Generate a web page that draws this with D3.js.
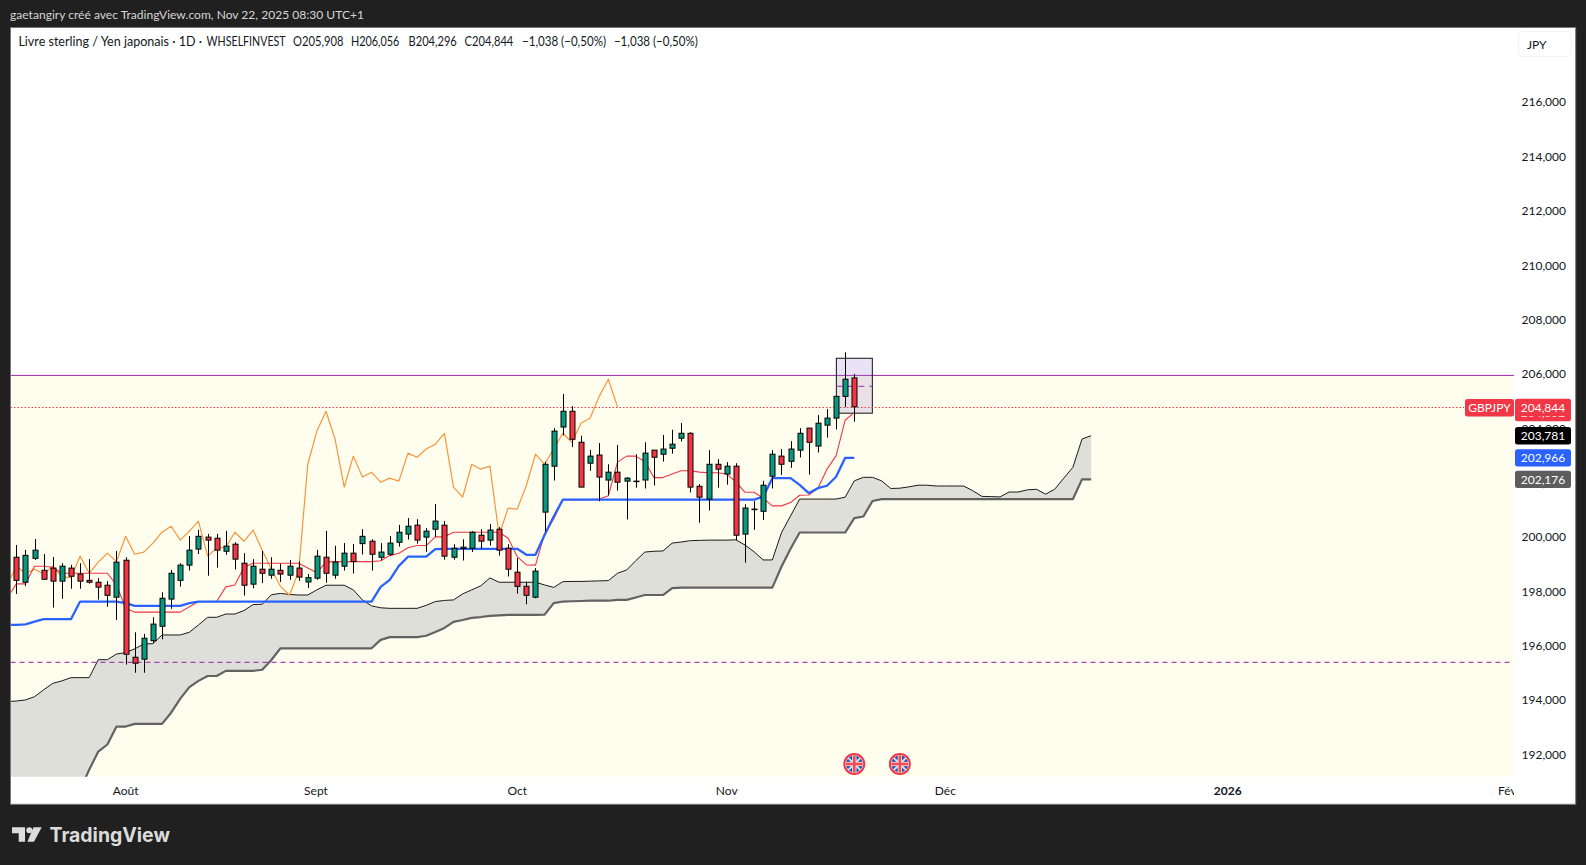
<!DOCTYPE html>
<html><head><meta charset="utf-8">
<script src="https://cdnjs.cloudflare.com/ajax/libs/d3/7.8.5/d3.min.js"></script>
<style>html,body{margin:0;padding:0;background:#202020;overflow:hidden}svg{display:block}text{font-family:Lato,"Noto Sans",sans-serif}</style>
</head><body><svg id="c" width="1586" height="865"></svg>
<script>
const opens=[199.31,198.39,199.27,198.83,198.91,198.43,198.91,198.69,198.46,198.39,198.28,197.84,199.20,195.63,195.56,196.24,196.77,197.77,198.46,199.02,199.61,200.05,200.01,199.53,199.79,199.09,198.32,198.87,198.65,198.83,198.65,198.91,198.40,198.54,199.31,198.65,198.98,199.46,199.81,199.90,199.31,199.42,199.86,200.16,200.49,200.05,200.34,200.49,199.31,199.63,199.64,200.12,199.94,200.34,199.64,198.76,198.24,197.84,200.97,202.66,204.10,204.68,203.54,202.77,203.07,202.15,202.44,202.11,202.10,202.15,203.25,203.10,203.32,203.69,203.87,201.92,201.45,202.73,202.37,202.66,200.16,201.07,201.00,202.29,203.03,202.84,203.25,204.06,203.40,204.17,204.43,205.23,205.908];
const highs=[199.76,199.58,199.98,199.43,199.32,199.09,199.03,199.09,199.24,198.54,198.43,199.54,199.31,196.55,196.49,197.10,198.02,198.84,199.09,200.09,200.32,200.17,200.17,200.28,199.86,199.46,199.24,199.54,199.31,199.07,199.21,199.16,198.69,199.58,200.28,199.73,199.83,199.80,200.34,199.97,199.83,200.09,200.50,200.75,200.71,200.38,201.27,200.64,199.79,199.97,200.27,200.34,200.53,200.42,199.79,199.28,198.41,198.91,202.83,204.06,205.32,204.87,203.78,203.26,203.51,202.73,203.44,202.26,203.10,203.54,203.25,203.81,204.00,204.25,203.91,202.00,203.25,202.92,202.81,202.77,201.26,201.38,202.12,203.25,203.29,203.58,204.06,204.06,204.54,204.76,205.24,206.85,206.056];
const lows=[197.96,198.25,199.21,198.48,197.46,197.78,198.15,198.15,198.34,197.75,197.49,197.00,195.36,195.06,195.06,196.16,196.29,197.41,198.23,198.82,199.43,198.63,198.93,199.40,198.86,197.90,198.17,198.36,198.52,198.40,198.48,198.44,198.18,198.48,198.37,198.52,198.82,198.71,199.41,198.82,199.19,199.37,199.70,199.96,199.81,199.51,200.06,199.22,199.22,199.19,199.50,199.62,199.74,199.37,198.60,197.97,197.58,197.80,200.25,202.13,203.79,203.36,201.89,202.49,201.37,201.59,201.76,200.70,201.87,201.84,201.95,202.83,203.12,203.57,201.69,200.58,201.03,201.87,201.98,199.94,199.11,200.32,200.68,201.84,202.34,202.60,202.98,202.35,203.16,203.71,204.01,204.83,204.296];
const closes=[198.46,199.38,199.57,198.50,198.43,198.98,198.61,198.43,198.39,198.21,197.91,199.13,195.74,195.41,196.33,196.85,197.80,198.72,199.02,199.57,200.08,199.94,199.57,199.72,199.24,198.28,198.98,198.72,198.87,198.69,198.98,198.58,198.56,199.35,198.72,199.13,199.46,199.15,200.08,199.42,199.50,199.83,200.23,200.45,199.94,200.27,200.64,199.35,199.64,199.68,200.23,199.90,200.31,199.57,198.87,198.24,197.91,198.80,202.73,203.95,204.68,203.65,201.89,203.03,202.26,202.44,202.07,202.22,202.11,203.14,202.99,203.29,203.47,203.87,201.89,201.52,202.73,202.55,202.66,200.12,201.12,201.08,201.96,203.10,202.73,203.29,203.87,203.54,204.24,204.43,205.23,205.86,204.844];
// indicator series: all start one bar before the first candle
const lineStart=-1;
const tenkan=[197.80,198.33,198.33,198.98,198.98,198.94,198.72,198.72,198.72,198.72,198.72,198.72,198.29,197.44,197.29,197.29,197.29,197.29,197.29,197.29,197.49,197.68,197.68,197.68,198.22,198.29,198.94,199.09,199.09,199.09,199.09,199.09,199.09,198.91,198.74,199.13,199.15,199.15,199.15,199.15,199.15,199.18,199.37,199.46,199.66,199.74,199.74,200.06,200.06,200.23,200.23,200.23,200.23,200.23,200.23,200.01,199.33,199.03,199.02,200.18,200.72,201.43,201.43,201.43,201.43,201.45,201.57,202.81,203.03,203.03,202.83,202.24,202.24,202.37,202.49,202.49,202.44,202.42,202.42,202.37,202.08,201.70,201.70,201.48,201.20,201.20,201.32,201.59,201.60,201.85,202.55,203.04,204.36,204.63];
const kijun=[196.82,196.82,196.84,196.94,197.03,197.03,197.03,197.03,197.68,197.68,197.68,197.68,197.68,197.62,197.52,197.52,197.52,197.52,197.52,197.52,197.62,197.68,197.68,197.68,197.68,197.68,197.68,197.68,197.68,197.68,197.68,197.68,197.68,197.68,197.68,197.68,197.68,197.68,197.68,197.68,197.68,198.22,198.48,198.99,199.33,199.33,199.33,199.61,199.62,199.62,199.62,199.62,199.62,199.62,199.62,199.62,199.62,199.40,199.40,200.13,200.81,201.43,201.43,201.43,201.43,201.43,201.43,201.43,201.43,201.43,201.43,201.43,201.43,201.43,201.43,201.43,201.43,201.43,201.43,201.43,201.43,201.43,201.43,201.54,202.22,202.22,202.22,201.97,201.67,201.85,201.94,202.27,202.966,202.966];
const chikou=[198.28,198.98,198.72,198.87,198.69,198.98,198.58,198.56,199.35,198.72,199.13,199.46,199.15,200.08,199.42,199.50,199.83,200.23,200.45,199.94,200.27,200.64,199.35,199.64,199.68,200.23,199.90,200.31,199.57,198.87,198.24,197.91,198.80,202.73,203.95,204.68,203.65,201.89,203.03,202.26,202.44,202.07,202.22,202.11,203.14,202.99,203.29,203.47,203.87,201.89,201.52,202.73,202.55,202.66,200.12,201.12,201.08,201.96,203.10,202.73,203.29,203.87,203.54,204.24,204.43,205.23,205.86,204.844];
const spanA=[194.00,194.02,194.06,194.18,194.43,194.67,194.76,194.88,194.88,194.88,195.54,195.54,195.75,195.80,195.94,196.12,196.13,196.45,196.45,196.45,196.55,196.82,197.10,197.10,197.22,197.22,197.35,197.57,197.58,197.93,197.98,197.94,197.92,197.92,198.11,198.28,198.28,198.28,198.11,197.74,197.52,197.45,197.43,197.43,197.43,197.43,197.54,197.68,197.72,197.74,197.96,198.11,198.26,198.55,198.39,198.39,198.39,198.39,198.39,198.29,198.20,198.41,198.42,198.42,198.43,198.44,198.45,198.72,198.84,199.18,199.50,199.53,199.54,199.83,199.87,199.92,199.93,199.94,199.94,199.94,199.95,199.76,199.51,199.21,199.21,200.21,200.83,201.45,201.45,201.45,201.45,201.45,201.52,202.12,202.25,202.25,202.12,201.84,201.85,201.90,201.96,201.96,201.93,201.93,201.93,201.93,201.76,201.55,201.54,201.53,201.71,201.71,201.79,201.81,201.63,201.81,202.22,202.62,203.66,203.781];
const spanB=[188.9,188.9,188.9,188.9,189.0,189.2,189.5,190.0,190.75,191.49,192.16,192.42,193.08,193.08,193.18,193.18,193.18,193.18,193.59,194.11,194.53,194.76,194.94,194.94,195.13,195.13,195.13,195.13,195.17,195.53,195.96,195.96,195.96,195.96,195.96,195.96,195.96,195.96,195.96,195.96,195.96,196.27,196.37,196.37,196.37,196.37,196.42,196.56,196.71,196.93,197.00,197.08,197.11,197.15,197.17,197.19,197.19,197.19,197.19,197.20,197.62,197.68,197.69,197.70,197.71,197.71,197.71,197.74,197.74,197.83,197.92,197.92,197.92,198.17,198.19,198.19,198.19,198.19,198.19,198.19,198.19,198.19,198.19,198.19,198.19,198.96,199.62,200.22,200.22,200.22,200.22,200.22,200.22,200.75,200.81,201.38,201.45,201.45,201.45,201.45,201.45,201.45,201.45,201.45,201.45,201.45,201.45,201.45,201.45,201.45,201.45,201.45,201.45,201.45,201.45,201.45,201.45,201.45,202.176,202.176];
const priceTicks=[216,214,212,210,208,206,204,202,200,198,196,194,192];
const monthLabels=["Août","Sept","Oct","Nov","Déc","2026","Fév"];
const monthBars=[12,32.9,55,78,102,133,163.7];
const resistance=206.0, support=195.44, lastClose=204.844;
const boxTop=206.63, boxBottom=204.61, boxBars=[90.03,93.98], boxMid=205.6;
const flagBars=[92,97];
const priceLabels=[
 {v:204.63,t:"204,632",c:"#f23645"},
 {v:203.781,t:"203,781",c:"#000000"},
 {v:202.966,t:"202,966",c:"#2962ff"},
 {v:202.176,t:"202,176",c:"#5d5d5d"},
 {v:204.844,t:"204,844",c:"#f23645"}];
const topText="gaetangiry créé avec TradingView.com, Nov 22, 2025 08:30 UTC+1";
const legendParts=[
 ["Livre sterling / Yen japonais · 1D ·",18.4,183.6],
 ["WHSELFINVEST",206.6,79],
 ["O205,908",293,50.4],
 ["H206,056",351,48.4],
 ["B204,296",408.6,48.2],
 ["C204,844",464.6,48.7],
 ["−1,038 (−0,50%)",522,84],
 ["−1,038 (−0,50%)",613.9,84]];

const PL=10.5,PR=1514,PT=27.5,PB=776.7,OR=1575.7,OB=804.3;
const x=d3.scaleLinear().domain([0,92]).range([16.3,854.3]);
const y=d3.scaleLinear().domain([206,192]).range([375.4,375.4+14*27.18]);
const svg=d3.select("#c");
svg.append("rect").attr("width",1586).attr("height",865).attr("fill","#202020");
svg.append("rect").attr("x",PL).attr("y",PT).attr("width",OR-PL).attr("height",OB-PT).attr("fill","#fff").attr("stroke","#767676").attr("stroke-width",1);
const defs=svg.append("defs");
defs.append("clipPath").attr("id","pane").append("rect").attr("x",PL+.5).attr("y",PT+.5).attr("width",PR-PL-.5).attr("height",PB-PT-.5);
defs.append("clipPath").attr("id","tx").append("rect").attr("x",PL+.5).attr("y",PB).attr("width",PR-PL-.5).attr("height",OB-PB-.5);
const g=svg.append("g").attr("clip-path","url(#pane)");
// cream zone under the resistance
g.append("rect").attr("x",PL).attr("width",PR-PL).attr("y",y(resistance)).attr("height",PB-y(resistance)).attr("fill","#fffdee");
// cloud
const idx=(a)=>a.map((v,i)=>({i:i+lineStart,v}));
const cloud=spanA.map((v,i)=>({i:i+lineStart,a:v,b:spanB[i]}));
g.append("path").attr("d",d3.area().x(d=>x(d.i)).y0(d=>y(d.a)).y1(d=>y(d.b))(cloud)).attr("fill","#dedfd9");
const ln=d3.line().x(d=>x(d.i)).y(d=>y(d.v));
const drawLine=(a,col,w)=>g.append("path").attr("d",ln(idx(a))).attr("fill","none").attr("stroke",col).attr("stroke-width",w).attr("stroke-linejoin","round");
drawLine(spanB,"#626262",2.2);
drawLine(spanA,"#1a1a1a",1);
// horizontal levels
g.append("line").attr("x1",PL).attr("x2",PR).attr("y1",y(resistance)).attr("y2",y(resistance)).attr("stroke","#9c27b0").attr("stroke-width",1);
g.append("line").attr("x1",PL).attr("x2",1510).attr("y1",y(support)).attr("y2",y(support)).attr("stroke","#9c27b0").attr("stroke-width",1.2).attr("stroke-dasharray","5 4").attr("opacity",.85);
// box
g.append("rect").attr("x",x(boxBars[0])).attr("width",x(boxBars[1])-x(boxBars[0])).attr("y",y(boxTop)).attr("height",y(boxBottom)-y(boxTop)).attr("fill","#9575cd").attr("fill-opacity",.2).attr("stroke","#111").attr("stroke-width",1);
g.append("line").attr("x1",x(boxBars[0])).attr("x2",x(boxBars[1])).attr("y1",y(boxMid)).attr("y2",y(boxMid)).attr("stroke","#9c27b0").attr("stroke-dasharray","6 5");
drawLine(chikou,"#f7953b",1.2);
drawLine(tenkan,"#f23645",1.1);
drawLine(kijun,"#2962ff",2.3);
// last price line
g.append("line").attr("x1",PL).attr("x2",1464).attr("y1",407.5).attr("y2",407.5).attr("stroke","#f23645").attr("stroke-dasharray","1.5 2");
// candles
const bars=opens.map((o,i)=>({i,o,h:highs[i],l:lows[i],c:closes[i]}));
const cg=g.append("g");
cg.selectAll("line").data(bars).join("line").attr("x1",d=>Math.round(x(d.i))+.5).attr("x2",d=>Math.round(x(d.i))+.5).attr("y1",d=>y(d.h)).attr("y2",d=>y(d.l)).attr("stroke","#000");
cg.selectAll("rect").data(bars).join("rect").attr("x",d=>Math.round(x(d.i))-2).attr("width",5)
 .attr("y",d=>y(Math.max(d.o,d.c))).attr("height",d=>Math.max(.5,Math.abs(y(d.o)-y(d.c))))
 .attr("fill",d=>d.c>=d.o?"#089981":"#f23645").attr("stroke","#000");
// flags
const fg=g.append("g");
flagBars.forEach((b,k)=>{
 const cx=x(b),cy=764,id="fl"+k;
 defs.append("clipPath").attr("id",id).append("circle").attr("cx",cx).attr("cy",cy).attr("r",8.4);
 const f=fg.append("g");
 f.append("circle").attr("cx",cx).attr("cy",cy).attr("r",10).attr("fill","#fff").attr("stroke","#f23645").attr("stroke-width",2);
 const h=f.append("g").attr("clip-path","url(#"+id+")");
 h.append("rect").attr("x",cx-9).attr("y",cy-9).attr("width",18).attr("height",18).attr("fill","#1d4fa8");
 [[-1,-1],[1,-1]].forEach(s=>h.append("line").attr("x1",cx+s[0]*9).attr("y1",cy+s[1]*9).attr("x2",cx-s[0]*9).attr("y2",cy-s[1]*9).attr("stroke","#d8dcec").attr("stroke-width",2));
 h.append("rect").attr("x",cx-9).attr("y",cy-2.2).attr("width",18).attr("height",4.4).attr("fill","#f8dfe0");
 h.append("rect").attr("x",cx-2.2).attr("y",cy-9).attr("width",4.4).attr("height",18).attr("fill","#f8dfe0");
 h.append("rect").attr("x",cx-9).attr("y",cy-1.3).attr("width",18).attr("height",2.6).attr("fill","#ef4c58");
 h.append("rect").attr("x",cx-1.3).attr("y",cy-9).attr("width",2.6).attr("height",18).attr("fill","#ef4c58");
});
// price axis
const FS=12;
const yAxis=d3.axisRight(y).tickValues(priceTicks).tickSize(0).tickPadding(0).tickFormat(d=>d3.format(".3f")(d).replace(".",","));
const ya=svg.append("g").attr("transform","translate(1566,-1.5)").call(yAxis);
ya.select(".domain").remove();
ya.selectAll("text").attr("x",0).attr("text-anchor","end").attr("font-size",FS).attr("font-family","Lato").attr("fill","#131722");
// time axis
const tickScale=d3.scaleOrdinal().domain(monthLabels).range(monthBars.map(b=>x(b)));
const tg=svg.append("g").attr("clip-path","url(#tx)");
tg.selectAll("text").data(monthLabels).join("text").attr("x",d=>tickScale(d)).attr("y",795).attr("text-anchor","middle")
 .attr("font-size",FS).attr("fill","#131722").attr("font-weight",d=>d==="2026"?700:400).text(d=>d);
// price labels
const lg=svg.append("g");
priceLabels.forEach(l=>{
 const cy=l.v===204.844?407.5:y(l.v);
 lg.append("rect").attr("x",1515).attr("y",cy-8.7).attr("width",56).attr("height",17.4).attr("rx",2.5).attr("fill",l.c);
 lg.append("text").attr("x",1543).attr("y",cy+4.2).attr("text-anchor","middle").attr("font-size",FS).attr("fill","#fff").text(l.t);
});
lg.append("rect").attr("x",1465).attr("y",399).attr("width",49).attr("height",17.4).attr("rx",2.5).attr("fill","#f23645");
lg.append("text").attr("x",1489.5).attr("y",412).attr("text-anchor","middle").attr("font-size",FS).attr("fill","#fff").text("GBPJPY");
// currency button
svg.append("rect").attr("x",1518.5).attr("y",31.5).attr("width",53).attr("height",25).attr("rx",4).attr("fill","#fff").attr("stroke","#f0f3fa");
svg.append("text").attr("x",1527).attr("y",48.5).attr("font-size",FS).attr("fill","#131722").text("JPY");
// header texts
svg.append("text").attr("x",10).attr("y",19).attr("font-size",12.2).attr("textLength",354).attr("lengthAdjust","spacingAndGlyphs").attr("fill","#d6d6d6").text(topText);
svg.append("g").selectAll("text").data(legendParts).join("text").attr("x",d=>d[1]).attr("y",46).attr("font-size",12.4).attr("textLength",d=>d[2]).attr("lengthAdjust","spacingAndGlyphs").attr("fill","#131722").text(d=>d[0]);
// logo
const lo=svg.append("g").attr("transform","translate(12,827.3)").attr("fill","#dcdcdc");
lo.append("path").attr("d","M0 0H13V14.5H6.7V6H0Z");
lo.append("circle").attr("cx",17.3).attr("cy",3).attr("r",3);
lo.append("path").attr("d","M21.5 0H29.7L22 14.5H15.4Z");
svg.append("text").attr("x",49.5).attr("y",841.7).attr("font-weight",700).attr("font-size",19.7).attr("textLength",120.5).attr("lengthAdjust","spacingAndGlyphs").attr("fill","#dcdcdc").style("font-family","Inter").text("TradingView");
</script></body></html>
